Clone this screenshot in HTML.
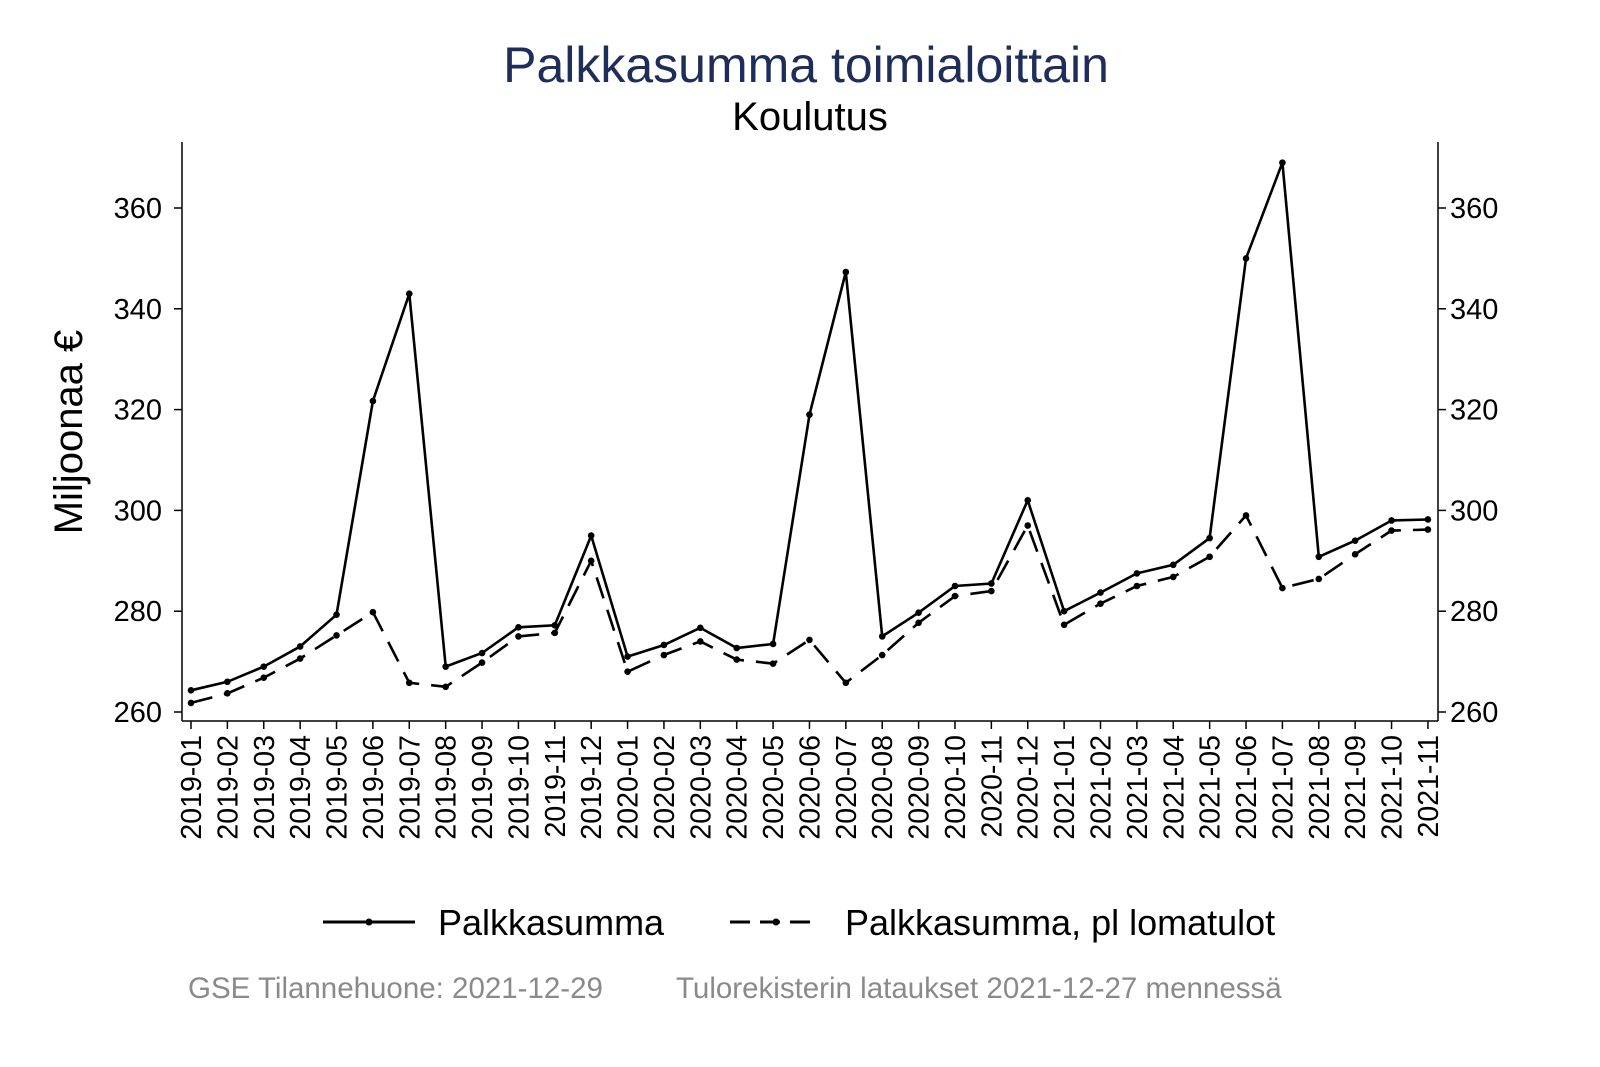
<!DOCTYPE html>
<html><head><meta charset="utf-8"><style>
html,body{margin:0;padding:0;background:#fff;}
svg{display:block;font-family:"Liberation Sans",Arial,sans-serif;}
</style></head><body>
<svg id="c" width="1600" height="1067" xmlns="http://www.w3.org/2000/svg">
<rect width="1600" height="1067" fill="#fff"/>
<text x="806" y="82" text-anchor="middle" font-size="50" fill="#1f2d5a">Palkkasumma toimialoittain</text>
<text x="810" y="130" text-anchor="middle" font-size="40" fill="#000">Koulutus</text>
<text transform="translate(82,432) rotate(-90)" text-anchor="middle" font-size="40" fill="#000">Miljoonaa €</text>
<line x1="182" y1="142" x2="182" y2="721" stroke="#000" stroke-width="1.5"/>
<line x1="1438" y1="142" x2="1438" y2="721" stroke="#000" stroke-width="1.5"/>
<line x1="182" y1="721" x2="1438" y2="721" stroke="#000" stroke-width="1.5"/>
<g id="g"></g>
<line x1="323" y1="922" x2="415" y2="922" stroke="#000" stroke-width="3"/>
<circle cx="369" cy="922" r="3.5"/>
<text x="438" y="935" font-size="36">Palkkasumma</text>
<line x1="730" y1="922" x2="815" y2="922" stroke="#000" stroke-width="3" stroke-dasharray="20,10"/>
<circle cx="776" cy="922" r="3.5"/>
<text x="845" y="935" font-size="36">Palkkasumma, pl lomatulot</text>
<text x="188" y="998" font-size="29.5" fill="#8a8a8a">GSE Tilannehuone: 2021-12-29</text>
<text x="676" y="998" font-size="29.5" fill="#8a8a8a">Tulorekisterin lataukset 2021-12-27 mennessä</text>
</svg>
<script>
var a=[264.3,266,269,273,279.3,321.7,343,269,271.7,276.8,277.2,295,271,273.3,276.7,272.7,273.5,319,347.3,275,279.7,285,285.5,302,280,283.7,287.5,289.2,294.5,350,369,290.8,294,298,298.2];
var b=[261.8,263.7,266.8,270.6,275.2,279.8,265.8,265,269.8,275,275.7,290,268,271.3,274,270.4,269.6,274.3,265.8,271.3,277.7,283,284,297,277.3,281.5,285,286.8,290.8,299,284.6,286.4,291.3,296,296.2];
function X(i){return 191+i*36.38;}function Y(v){return 712-(v-260)*5.04;}
var s='';
for(var v=260;v<=360;v+=20){var y=Y(v);
s+='<line x1="174" y1="'+y+'" x2="182" y2="'+y+'" stroke="#000" stroke-width="1.5"/>';
s+='<line x1="1438" y1="'+y+'" x2="1446" y2="'+y+'" stroke="#000" stroke-width="1.5"/>';
s+='<text x="162" y="'+(y+10)+'" text-anchor="end" font-size="29">'+v+'</text>';
s+='<text x="1450" y="'+(y+10)+'" font-size="29">'+v+'</text>';}
for(var i=0;i<35;i++){var x=X(i);var yr=2019+Math.floor(i/12),m=i%12+1;
s+='<line x1="'+x+'" y1="721" x2="'+x+'" y2="729" stroke="#000" stroke-width="1.5"/>';
s+='<text transform="translate('+(x+10)+',735) rotate(-90)" text-anchor="end" font-size="28.5">'+yr+'-'+(m<10?'0':'')+m+'</text>';}
function pl(d,dash){var p=d.map(function(v,i){return X(i).toFixed(1)+','+Y(v).toFixed(1)}).join(' ');
var r='<polyline points="'+p+'" fill="none" stroke="#000" stroke-width="2.6" '+(dash?'stroke-dasharray="22,12"':'')+'/>';
d.forEach(function(v,i){r+='<circle cx="'+X(i)+'" cy="'+Y(v)+'" r="3.3"/>';});return r;}
s+=pl(b,true)+pl(a,false);
document.getElementById('g').innerHTML=s;
</script>
</body></html>
